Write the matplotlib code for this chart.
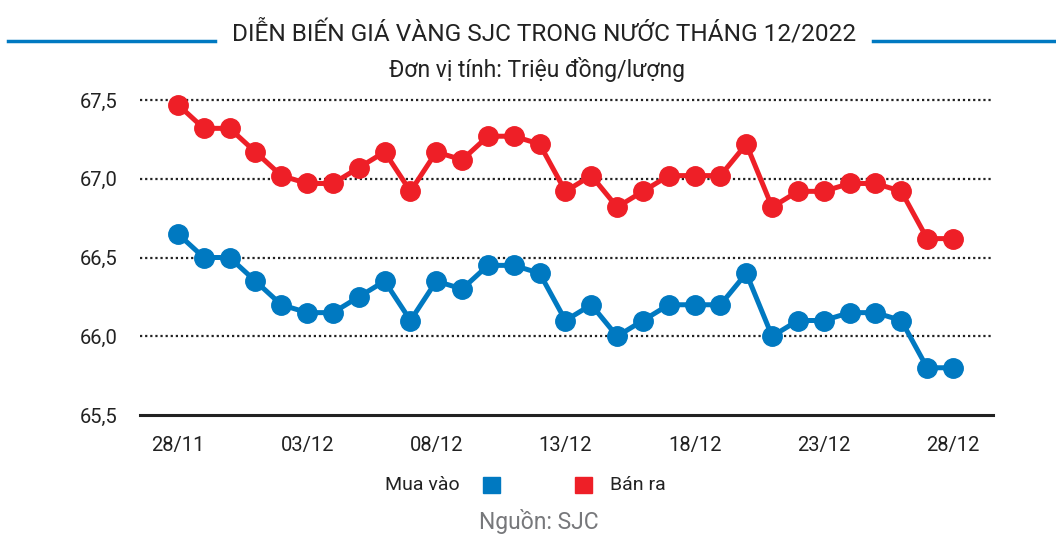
import matplotlib.pyplot as plt

# Dữ liệu giá vàng SJC (triệu đồng/lượng)
days = list(range(31))
tick_pos = [0, 5, 10, 15, 20, 25, 30]
tick_labels = ['28/11', '03/12', '08/12', '13/12', '18/12', '23/12', '28/12']
mua_vao = [66.65, 66.50, 66.50, 66.35, 66.20, 66.15, 66.15, 66.25, 66.35, 66.10,
           66.35, 66.30, 66.45, 66.45, 66.40, 66.10, 66.20, 66.00, 66.10, 66.20,
           66.20, 66.20, 66.40, 66.00, 66.10, 66.10, 66.15, 66.15, 66.10, 65.80,
           65.80]
ban_ra = [67.47, 67.32, 67.32, 67.17, 67.02, 66.97, 66.97, 67.07, 67.17, 66.92,
          67.17, 67.12, 67.27, 67.27, 67.22, 66.92, 67.02, 66.82, 66.92, 67.02,
          67.02, 67.02, 67.22, 66.82, 66.92, 66.92, 66.97, 66.97, 66.92, 66.62,
          66.62]
y_ticks = [65.5, 66.0, 66.5, 67.0, 67.5]

plt.rcParams['font.family'] = ['Roboto', 'DejaVu Sans']

blue = '#0079C1'
red = '#EE1F27'

fig = plt.figure(figsize=(10.56, 5.35), dpi=100)
ax = fig.add_axes([140 / 1056, 1 - 415 / 535, 853 / 1056, 315 / 535])

ax.plot(days, ban_ra, color=red, lw=3.6, marker='o', ms=14, clip_on=False, zorder=3)
ax.plot(days, mua_vao, color=blue, lw=3.6, marker='o', ms=14, clip_on=False, zorder=3)

ax.set_xlim(-1.47, 31.55)
ax.set_ylim(65.5, 67.5)
ax.set_yticks(y_ticks)
ax.set_yticklabels([f'{v:.1f}'.replace('.', ',') for v in y_ticks])
ax.set_xticks(tick_pos)
ax.set_xticklabels(tick_labels)
ax.tick_params(length=0, labelsize=14.5, colors='#222222')
ax.tick_params(axis='y', pad=16)
ax.tick_params(axis='x', pad=15)

for v in y_ticks[1:]:
    ax.axhline(v, color='#222222', lw=1.6, ls=(0, (1, 1.3)), zorder=1, clip_on=False)
for s in ['top', 'right', 'left']:
    ax.spines[s].set_visible(False)
ax.spines['bottom'].set_linewidth(2.2)
ax.spines['bottom'].set_color('#222222')

# Tiêu đề
fig.text(544 / 1056, 1 - 33 / 535, 'DIỄN BIẾN GIÁ VÀNG SJC TRONG NƯỚC THÁNG 12/2022',
         ha='center', va='center', fontsize=17.6, color='#222222')
fig.text(537 / 1056, 1 - 70 / 535, 'Đơn vị tính: Triệu đồng/lượng',
         ha='center', va='center', fontsize=16.5, color='#222222')
fig.add_artist(plt.Line2D([8 / 1056, 215 / 1056], [1 - 41 / 535] * 2, color=blue, lw=2.5))
fig.add_artist(plt.Line2D([873 / 1056, 1.0], [1 - 41 / 535] * 2, color=blue, lw=2.5))

# Chú thích
ly = 1 - 485 / 535
fig.text(460 / 1056, ly, 'Mua vào', ha='right', va='center', fontsize=14, color='#222222')
fig.add_artist(plt.Rectangle((483 / 1056, ly - 8 / 535), 17 / 1056, 16 / 535, color=blue))
fig.add_artist(plt.Rectangle((575 / 1056, ly - 8 / 535), 17 / 1056, 16 / 535, color=red))
fig.text(610 / 1056, ly, 'Bán ra', ha='left', va='center', fontsize=14, color='#222222')
fig.text(539 / 1056, 1 - 522 / 535, 'Nguồn: SJC', ha='center', va='center',
         fontsize=16.5, color='#77787B')

fig.savefig('out.png', dpi=100)
